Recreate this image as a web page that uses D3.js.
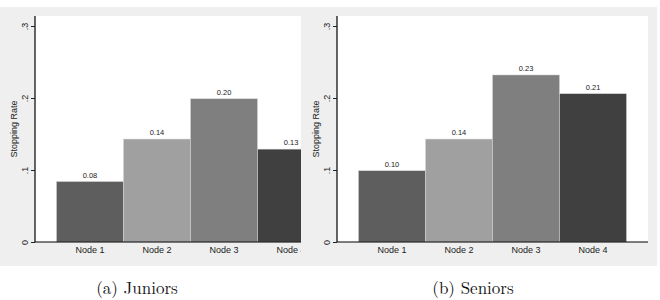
<!DOCTYPE html>
<html>
<head>
<meta charset="utf-8">
<script src="https://cdn.jsdelivr.net/npm/d3@7"></script>
<style>
  body { margin: 0; background: #fff; }
  svg { display: block; }
</style>
</head>
<body>
<div id="container"></div>
<script>
/* DATA */
const nodes = ["Node 1", "Node 2", "Node 3", "Node 4"];
const juniors = [0.084, 0.143, 0.199, 0.129];
const seniors = [0.099, 0.143, 0.232, 0.206];
const yTicks = [0, 0.1, 0.2, 0.3];
const yTickLabels = ["0", ".1", ".2", ".3"];
const barColors = ["#5e5e5e", "#a0a0a0", "#7f7f7f", "#404040"];

/* CONSTANTS */
const width = 660;
const height = 300;
const sans = "Liberation Sans, Arial, sans-serif";

const svg = d3.select("#container")
  .append("svg")
  .attr("width", width)
  .attr("height", height);

// gray graph background behind both panels
svg.append("rect")
  .attr("x", 0).attr("y", 7)
  .attr("width", 657).attr("height", 259)
  .attr("fill", "#efefef");

const yScale = d3.scaleLinear()
  .domain([0, 0.3])
  .range([242, 26]);

function drawPanel(id, left, clipRight, values, caption, captionX) {
  const plotW = 311;
  const top = 16, bottom = 242;

  const xScale = d3.scaleBand()
    .domain(nodes)
    .range([left, left + plotW])
    .paddingInner(0)
    .paddingOuter(0.32);

  // the juniors graph is cropped on its right side
  svg.append("clipPath").attr("id", id)
    .append("rect")
    .attr("x", 0).attr("y", 0)
    .attr("width", clipRight).attr("height", 266);

  const g = svg.append("g").attr("clip-path", `url(#${id})`);

  // plot region
  g.append("rect")
    .attr("x", left).attr("y", top)
    .attr("width", plotW).attr("height", bottom - top)
    .attr("fill", "#fff");

  // bars
  g.selectAll("rect.bar")
    .data(values)
    .join("rect")
    .attr("class", "bar")
    .attr("x", (d, i) => xScale(nodes[i]))
    .attr("y", d => yScale(d))
    .attr("width", xScale.bandwidth())
    .attr("height", d => yScale(0) - yScale(d))
    .attr("fill", (d, i) => barColors[i])
    .attr("stroke", "#d8d8d8")
    .attr("stroke-width", 0.5);

  // value labels
  g.selectAll("text.val")
    .data(values)
    .join("text")
    .attr("class", "val")
    .attr("x", (d, i) => xScale(nodes[i]) + xScale.bandwidth() / 2)
    .attr("y", d => yScale(d) - 4)
    .attr("text-anchor", "middle")
    .attr("font-family", sans)
    .attr("font-size", 7.5)
    .attr("fill", "#222")
    .text(d => d.toFixed(2));

  // x axis
  const xAxis = d3.axisBottom(xScale).tickSize(0).tickPadding(5);
  const gx = g.append("g")
    .attr("transform", `translate(0,${bottom})`)
    .call(xAxis);
  gx.select(".domain").attr("stroke", "#000").attr("stroke-width", 1.2)
    .attr("d", `M${left},0H${left + plotW}`);
  gx.selectAll("text")
    .attr("font-family", sans)
    .attr("font-size", 9).attr("fill", "#222");

  // y axis
  const yAxis = d3.axisLeft(yScale)
    .tickValues(yTicks)
    .tickFormat((d, i) => yTickLabels[i])
    .tickSize(4)
    .tickPadding(2);
  const gy = svg.append("g")
    .attr("transform", `translate(${left},0)`)
    .call(yAxis);
  gy.select(".domain").attr("stroke", "#000").attr("stroke-width", 1.2)
    .attr("d", `M0,${yScale(0)}V${top}`);
  gy.selectAll(".tick line").attr("stroke", "#222");
  gy.selectAll(".tick text")
    .attr("font-family", sans)
    .attr("font-size", 9).attr("fill", "#222")
    .attr("text-anchor", "middle")
    .attr("x", null)
    .attr("dy", null)
    .attr("transform", "translate(-7,0) rotate(-90)")
    .attr("y", 0);

  // y title
  svg.append("text")
    .attr("transform", `translate(${left - 18},${(top + bottom) / 2}) rotate(-90)`)
    .attr("text-anchor", "middle")
    .attr("font-family", sans)
    .attr("font-size", 9).attr("fill", "#222")
    .text("Stopping Rate");

  // caption
  svg.append("text")
    .attr("x", captionX).attr("y", 294)
    .attr("text-anchor", "middle")
    .attr("font-family", "Latin Modern Roman, DejaVu Serif, serif")
    .attr("font-size", 17).attr("fill", "#111")
    .text(caption);
}

drawPanel("clipA", 35, 301, juniors, "(a)  Juniors", 137);
drawPanel("clipB", 337, 660, seniors, "(b)  Seniors", 473);
</script>
</body>
</html>
